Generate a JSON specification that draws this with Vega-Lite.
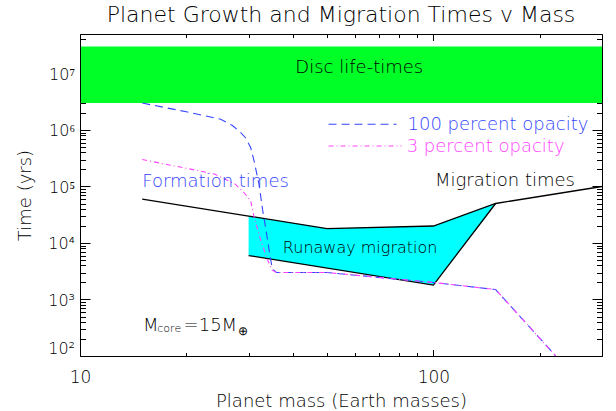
{
  "$schema": "https://vega.github.io/schema/vega-lite/v6.json",
  "width": 522,
  "height": 322,
  "autosize": {"type": "none"},
  "padding": {"left": 80, "top": 34, "right": 14, "bottom": 55},
  "background": "white",
  "config": {"view": {"stroke": null}, "font": "DejaVu Sans"},
  "title": {"text": "Planet Growth and Migration Times v Mass", "font": "DejaVu Sans", "fontSize": 22, "fontWeight": 200, "color": "black", "anchor": "middle", "offset": -10, "baseline": "alphabetic"},
  "datasets": {
    "disc": [{"mass_lo": 10, "mass_hi": 300, "t_lo": 3000000, "t_hi": 30000000}],
    "runaway": [
      {"mass": 30, "lower": 6000, "upper": 30000},
      {"mass": 50, "lower": 3600, "upper": 18000},
      {"mass": 100, "lower": 1800, "upper": 20000},
      {"mass": 150, "lower": 50000, "upper": 50000}
    ],
    "migration": [
      {"mass": 15, "time": 60000, "edge": "upper"},
      {"mass": 30, "time": 30000, "edge": "upper"},
      {"mass": 50, "time": 18000, "edge": "upper"},
      {"mass": 100, "time": 20000, "edge": "upper"},
      {"mass": 150, "time": 50000, "edge": "upper"},
      {"mass": 300, "time": 100000, "edge": "upper"},
      {"mass": 30, "time": 6000, "edge": "lower"},
      {"mass": 100, "time": 1800, "edge": "lower"},
      {"mass": 150, "time": 50000, "edge": "lower"}
    ],
    "formation": [
      {"mass": 15, "time": 3000000, "series": "100 percent opacity", "part": "curve"},
      {"mass": 20, "time": 2100000, "series": "100 percent opacity", "part": "curve"},
      {"mass": 25, "time": 1550000, "series": "100 percent opacity", "part": "curve"},
      {"mass": 27, "time": 1200000, "series": "100 percent opacity", "part": "curve"},
      {"mass": 28.5, "time": 900000, "series": "100 percent opacity", "part": "curve"},
      {"mass": 29.4, "time": 730000, "series": "100 percent opacity", "part": "curve"},
      {"mass": 30.4, "time": 490000, "series": "100 percent opacity", "part": "curve"},
      {"mass": 31.1, "time": 280000, "series": "100 percent opacity", "part": "curve"},
      {"mass": 32.1, "time": 110000, "series": "100 percent opacity", "part": "curve"},
      {"mass": 32.9, "time": 37000, "series": "100 percent opacity", "part": "curve"},
      {"mass": 33.6, "time": 17000, "series": "100 percent opacity", "part": "curve"},
      {"mass": 34.3, "time": 7400, "series": "100 percent opacity", "part": "curve"},
      {"mass": 35, "time": 3500, "series": "100 percent opacity", "part": "curve"},
      {"mass": 36, "time": 3000, "series": "100 percent opacity", "part": "curve"},
      {"mass": 50, "time": 3000, "series": "100 percent opacity", "part": "curve"},
      {"mass": 100, "time": 2000, "series": "100 percent opacity", "part": "curve"},
      {"mass": 150, "time": 1500, "series": "100 percent opacity", "part": "curve"},
      {"mass": 222, "time": 100, "series": "100 percent opacity", "part": "curve"},
      {"mass": 15, "time": 300000, "series": "3 percent opacity", "part": "curve"},
      {"mass": 20, "time": 210000, "series": "3 percent opacity", "part": "curve"},
      {"mass": 24, "time": 166000, "series": "3 percent opacity", "part": "curve"},
      {"mass": 27.5, "time": 110000, "series": "3 percent opacity", "part": "curve"},
      {"mass": 29, "time": 80000, "series": "3 percent opacity", "part": "curve"},
      {"mass": 30.4, "time": 56000, "series": "3 percent opacity", "part": "curve"},
      {"mass": 31.1, "time": 28500, "series": "3 percent opacity", "part": "curve"},
      {"mass": 32.5, "time": 11000, "series": "3 percent opacity", "part": "curve"},
      {"mass": 34, "time": 4900, "series": "3 percent opacity", "part": "curve"},
      {"mass": 35, "time": 3300, "series": "3 percent opacity", "part": "curve"},
      {"mass": 36, "time": 3000, "series": "3 percent opacity", "part": "curve"},
      {"mass": 50, "time": 3000, "series": "3 percent opacity", "part": "curve"},
      {"mass": 100, "time": 2000, "series": "3 percent opacity", "part": "curve"},
      {"mass": 150, "time": 1500, "series": "3 percent opacity", "part": "curve"},
      {"mass": 222, "time": 100, "series": "3 percent opacity", "part": "curve"},
      {"mass": 50.5, "time": 1260000, "series": "100 percent opacity", "part": "key"},
      {"mass": 78.7, "time": 1260000, "series": "100 percent opacity", "part": "key"},
      {"mass": 50.5, "time": 520000, "series": "3 percent opacity", "part": "key"},
      {"mass": 81.3, "time": 520000, "series": "3 percent opacity", "part": "key"}
    ],
    "labels_black": [
      {"mass": 101, "time": 100000, "label": "Migration times"},
      {"mass": 15.07, "time": 279, "label": "M"},
      {"mass": 19.64, "time": 279, "label": "=15M"}
    ],
    "labels_disc": [{"mass": 61.7, "time": 12300000, "label": "Disc life-times"}],
    "labels_runaway": [{"mass": 37.5, "time": 6600, "label": "Runaway migration"}],
    "labels_blue": [
      {"mass": 15, "time": 96000, "label": "Formation times"},
      {"mass": 84.5, "time": 990000, "label": "100 percent opacity"}
    ],
    "labels_magenta": [{"mass": 84, "time": 400000, "label": "3 percent opacity"}],
    "labels_sub": [
      {"mass": 16.55, "time": 265, "label": "core"}
    ],
    "labels_earth": [
      {"mass": 28.0, "time": 240, "label": "⊕"}
    ]
  },
  "layer": [
    {
      "data": {"name": "disc"},
      "mark": {"type": "rect", "color": "#00ff27"},
      "encoding": {
        "x": {"field": "mass_lo", "type": "quantitative",
          "scale": {"type": "log", "domain": [10, 300], "nice": false, "zero": false},
          "axis": {"orient": "bottom", "values": [10, 100], "labelExpr": "format(datum.value, 'd')",
            "tickSize": -6.5, "tickColor": "black", "tickWidth": 1, "domain": false, "grid": false,
            "labelFont": "DejaVu Sans", "labelFontSize": 17, "labelFontWeight": 200, "labelColor": "black", "labelPadding": 32.5,
            "labelBaseline": "alphabetic", "labelFlush": false, "labelOverlap": false,
            "title": "Planet mass (Earth masses)", "titleFont": "DejaVu Sans", "titleFontSize": 18,
            "titleFontWeight": 200, "titleColor": "black", "titleX": 261, "titleY": 50,
            "titleBaseline": "alphabetic", "titleAlign": "center"}},
        "x2": {"field": "mass_hi"},
        "y": {"field": "t_lo", "type": "quantitative",
          "scale": {"type": "log", "domain": [100, 50000000], "nice": false, "zero": false},
          "axis": {"orient": "left", "values": [100, 1000, 10000, 100000, 1000000, 10000000],
            "labelExpr": "datum.value == 100 ? '10²' : datum.value == 1000 ? '10³' : datum.value == 10000 ? '10⁴' : datum.value == 100000 ? '10⁵' : datum.value == 1000000 ? '10⁶' : '10⁷'",
            "tickSize": -10, "tickColor": "black", "tickWidth": 1, "domain": false, "grid": false,
            "labelFont": "DejaVu Sans", "labelFontSize": 16, "labelFontWeight": 200, "labelColor": "black", "labelPadding": 15.5,
            "labelAlign": "right", "labelBaseline": "middle", "labelFlush": false, "labelOverlap": false,
            "labelOffset": {"condition": {"test": "datum.value == 100", "value": -8}, "value": 1},
            "title": "Time (yrs)", "titleFont": "DejaVu Sans", "titleFontSize": 18,
            "titleFontWeight": 200, "titleColor": "black", "titleX": -50, "titleY": 161,
            "titleAngle": -90, "titleBaseline": "alphabetic", "titleAlign": "center"}},
        "y2": {"field": "t_hi"}
      }
    },
    {
      "data": {"name": "runaway"},
      "mark": {"type": "area", "color": "#00ffff", "opacity": 1},
      "encoding": {
        "x": {"field": "mass", "type": "quantitative",
          "axis": {"orient": "bottom", "values": [20, 30, 40, 50, 60, 70, 80, 90, 200, 300],
            "tickSize": -3.5, "tickColor": "black", "labels": false, "domain": false, "grid": false, "title": null}},
        "y": {"field": "lower", "type": "quantitative",
          "axis": {"orient": "left",
            "values": [200, 300, 400, 500, 600, 700, 800, 900, 2000, 3000, 4000, 5000, 6000, 7000, 8000, 9000, 20000, 30000, 40000, 50000, 60000, 70000, 80000, 90000, 200000, 300000, 400000, 500000, 600000, 700000, 800000, 900000, 2000000, 3000000, 4000000, 5000000, 6000000, 7000000, 8000000, 9000000, 20000000, 30000000, 40000000],
            "tickSize": -5.5, "tickColor": "black", "labels": false, "domain": false, "grid": false, "title": null}},
        "y2": {"field": "upper"}
      }
    },
    {
      "data": {"name": "migration"},
      "mark": {"type": "line", "color": "black", "strokeWidth": 1.3, "clip": true},
      "encoding": {
        "x": {"field": "mass", "type": "quantitative",
          "axis": {"orient": "top", "values": [10, 100],
            "tickSize": -6.5, "tickColor": "black", "labels": false, "domain": false, "grid": false, "title": null}},
        "y": {"field": "time", "type": "quantitative",
          "axis": {"orient": "right", "values": [100, 1000, 10000, 100000, 1000000, 10000000],
            "tickSize": -10, "tickColor": "black", "labels": false, "domain": false, "grid": false, "title": null}},
        "detail": {"field": "edge"}
      }
    },
    {
      "data": {"name": "formation"},
      "mark": {"type": "line", "strokeWidth": 1.1, "clip": true},
      "encoding": {
        "x": {"field": "mass", "type": "quantitative",
          "axis": {"orient": "top", "values": [20, 30, 40, 50, 60, 70, 80, 90, 200, 300],
            "tickSize": -3.5, "tickColor": "black", "labels": false, "domain": false, "grid": false, "title": null}},
        "y": {"field": "time", "type": "quantitative",
          "axis": {"orient": "right",
            "values": [200, 300, 400, 500, 600, 700, 800, 900, 2000, 3000, 4000, 5000, 6000, 7000, 8000, 9000, 20000, 30000, 40000, 50000, 60000, 70000, 80000, 90000, 200000, 300000, 400000, 500000, 600000, 700000, 800000, 900000, 2000000, 3000000, 4000000, 5000000, 6000000, 7000000, 8000000, 9000000, 20000000, 30000000, 40000000],
            "tickSize": -5.5, "tickColor": "black", "labels": false, "domain": false, "grid": false, "title": null}},
        "color": {"field": "series", "type": "nominal",
          "scale": {"domain": ["100 percent opacity", "3 percent opacity"], "range": ["#3346ff", "#ff44ff"]}, "legend": null},
        "strokeDash": {"field": "series", "type": "nominal",
          "scale": {"domain": ["100 percent opacity", "3 percent opacity"], "range": [[8, 5], [5, 3, 1, 3]]}, "legend": null},
        "detail": {"field": "part"}
      }
    },
    {
      "data": {"name": "labels_black"},
      "mark": {"type": "text", "font": "DejaVu Sans", "fontSize": 18, "fontWeight": 200, "color": "black", "align": "left", "baseline": "alphabetic"},
      "encoding": {
        "x": {"field": "mass", "type": "quantitative",
          "axis": {"orient": "bottom", "ticks": false, "labels": false, "domain": true, "domainColor": "black", "domainWidth": 1, "grid": false, "title": null, "zindex": 1}},
        "y": {"field": "time", "type": "quantitative",
          "axis": {"orient": "left", "ticks": false, "labels": false, "domain": true, "domainColor": "black", "domainWidth": 1, "grid": false, "title": null, "zindex": 1}},
        "text": {"field": "label"}
      }
    },
    {
      "data": {"name": "labels_disc"},
      "mark": {"type": "text", "font": "DejaVu Sans", "fontSize": 18, "fontWeight": 200, "color": "black", "align": "center", "baseline": "middle"},
      "encoding": {
        "x": {"field": "mass", "type": "quantitative",
          "axis": {"orient": "top", "ticks": false, "labels": false, "domain": true, "domainColor": "black", "domainWidth": 1, "grid": false, "title": null, "zindex": 1}},
        "y": {"field": "time", "type": "quantitative",
          "axis": {"orient": "right", "ticks": false, "labels": false, "domain": true, "domainColor": "black", "domainWidth": 1, "grid": false, "title": null, "zindex": 1}},
        "text": {"field": "label"}
      }
    },
    {
      "data": {"name": "labels_runaway"},
      "mark": {"type": "text", "font": "DejaVu Sans", "fontSize": 16, "fontWeight": 200, "color": "black", "align": "left", "baseline": "alphabetic"},
      "encoding": {
        "x": {"field": "mass", "type": "quantitative", "axis": null},
        "y": {"field": "time", "type": "quantitative", "axis": null},
        "text": {"field": "label"}
      }
    },
    {
      "data": {"name": "labels_blue"},
      "mark": {"type": "text", "font": "DejaVu Sans", "fontSize": 18, "fontWeight": 200, "color": "#3346ff", "align": "left", "baseline": "alphabetic"},
      "encoding": {
        "x": {"field": "mass", "type": "quantitative", "axis": null},
        "y": {"field": "time", "type": "quantitative", "axis": null},
        "text": {"field": "label"}
      }
    },
    {
      "data": {"name": "labels_magenta"},
      "mark": {"type": "text", "font": "DejaVu Sans", "fontSize": 18, "fontWeight": 200, "color": "#ff44ff", "align": "left", "baseline": "alphabetic"},
      "encoding": {
        "x": {"field": "mass", "type": "quantitative", "axis": null},
        "y": {"field": "time", "type": "quantitative", "axis": null},
        "text": {"field": "label"}
      }
    },
    {
      "data": {"name": "labels_sub"},
      "mark": {"type": "text", "font": "DejaVu Sans", "fontSize": 11, "fontWeight": 200, "color": "black", "align": "left", "baseline": "alphabetic"},
      "encoding": {
        "x": {"field": "mass", "type": "quantitative", "axis": null},
        "y": {"field": "time", "type": "quantitative", "axis": null},
        "text": {"field": "label"}
      }
    },
    {
      "data": {"name": "labels_earth"},
      "mark": {"type": "text", "font": "DejaVu Sans", "fontSize": 12, "fontWeight": 200, "color": "black", "align": "left", "baseline": "alphabetic"},
      "encoding": {
        "x": {"field": "mass", "type": "quantitative", "axis": null},
        "y": {"field": "time", "type": "quantitative", "axis": null},
        "text": {"field": "label"}
      }
    }
  ],
  "resolve": {"axis": {"x": "independent", "y": "independent"}}
}
